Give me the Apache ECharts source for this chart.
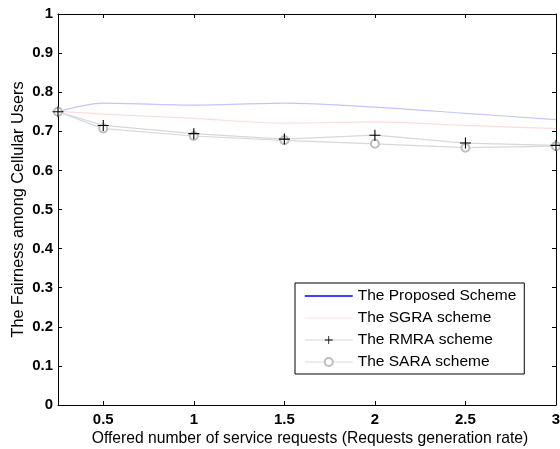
<!DOCTYPE html>
<html>
<head>
<meta charset="utf-8">
<script src="https://cdn.jsdelivr.net/npm/echarts@6/dist/echarts.min.js"></script>
<style>html,body{margin:0;padding:0;background:#fff;}#c{width:560px;height:449px;}</style>
</head>
<body>
<div id="c"></div>
<script>
var xValues = [0.25, 0.5, 1, 1.5, 2, 2.5, 3];
var proposed = [0.750, 0.772, 0.767, 0.772, 0.762, 0.746, 0.730];
var sgra = [0.751, 0.744, 0.733, 0.721, 0.724, 0.715, 0.707];
var rmra = [0.750, 0.715, 0.694, 0.680, 0.690, 0.670, 0.664];
var sara = [0.750, 0.707, 0.688, 0.677, 0.668, 0.658, 0.662];
var xTicks = [0.5, 1, 1.5, 2, 2.5, 3];
var seriesNames = ['The Proposed Scheme', 'The SGRA scheme', 'The RMRA scheme', 'The SARA scheme'];

function pairs(v) { return xValues.map(function (x, i) { return [x, v[i]]; }); }

var FONT = '"Liberation Sans", Arial, Helvetica, sans-serif';
var chart = echarts.init(document.getElementById('c'), null, { renderer: 'canvas' });
var plus = 'path://M4.5,0H5.5V4.5H10V5.5H5.5V10H4.5V5.5H0V4.5H4.5Z';

chart.setOption({
  animation: false,
  backgroundColor: '#fff',
  textStyle: { fontFamily: FONT },
  grid: { left: 58, right: 4, top: 14, bottom: 44, containLabel: false, outerBoundsMode: 'none' },
  xAxis: [{
    type: 'value', min: 0.25, max: 3,
    name: 'Offered number of service requests (Requests generation rate)',
    nameLocation: 'middle', nameGap: 26, nameMoveOverlap: false,
    nameTextStyle: { fontSize: 15.7, color: '#000', fontFamily: FONT, padding: [0, 0, 0, 6] },
    axisLine: { show: true, lineStyle: { color: '#000', width: 1 } },
    axisTick: { show: true, inside: true, length: 4, customValues: xTicks, lineStyle: { color: '#000' } },
    axisLabel: { show: true, customValues: xTicks, fontSize: 15, fontWeight: 'bold', color: '#000', margin: 7, fontFamily: FONT,
      formatter: function (v) { return String(v); } },
    splitLine: { show: false }
  }, {
    type: 'value', min: 0.25, max: 3, position: 'top',
    axisLine: { show: true, onZero: false, lineStyle: { color: '#000', width: 1 } },
    axisTick: { show: true, inside: true, length: 4, customValues: xTicks, lineStyle: { color: '#000' } },
    axisLabel: { show: false }, splitLine: { show: false }
  }],
  yAxis: [{
    type: 'value', min: 0, max: 1, interval: 0.1,
    name: 'The Fairness among Cellular Users',
    nameLocation: 'middle', nameGap: 31, nameMoveOverlap: false,
    nameTextStyle: { fontSize: 16.3, color: '#000', fontFamily: FONT },
    axisLine: { show: true, lineStyle: { color: '#000', width: 1 } },
    axisTick: { show: true, inside: true, length: 4, lineStyle: { color: '#000' } },
    axisLabel: { fontSize: 15, fontWeight: 'bold', color: '#000', margin: 5, fontFamily: FONT,
      formatter: function (v) { return String(Math.round(v * 10) / 10); } },
    splitLine: { show: false }
  }, {
    type: 'value', min: 0, max: 1, interval: 0.1, position: 'right',
    axisLine: { show: true, onZero: false, lineStyle: { color: '#000', width: 1 } },
    axisTick: { show: true, inside: true, length: 4, lineStyle: { color: '#000' } },
    axisLabel: { show: false }, splitLine: { show: false }
  }],
  legend: {
    orient: 'vertical', left: 295, top: 283,
    itemWidth: 48, itemHeight: 10, itemGap: 6,
    padding: [5, 8, 4, 9],
    borderColor: '#000', borderWidth: 1, borderRadius: 0, backgroundColor: '#fff',
    textStyle: { fontSize: 15.5, color: '#000', fontFamily: FONT },
    data: [
      { name: seriesNames[0], itemStyle: { opacity: 0 }, lineStyle: { color: '#0000ff', width: 1.5 } },
      { name: seriesNames[1], itemStyle: { opacity: 0 }, lineStyle: { color: '#fbe0e0', width: 1 } },
      { name: seriesNames[2], lineStyle: { color: '#d8d8d8', width: 1 } },
      { name: seriesNames[3], lineStyle: { color: '#d8d8d8', width: 1 } }
    ]
  },
  series: [
    { name: seriesNames[0], type: 'line', data: pairs(proposed), smooth: 0.3, symbol: 'none',
      lineStyle: { color: '#c4c4ff', width: 1.2 }, itemStyle: { color: '#c4c4ff' }, z: 2 },
    { name: seriesNames[1], type: 'line', data: pairs(sgra), smooth: 0.3, symbol: 'none',
      lineStyle: { color: '#fcdcdc', width: 1.2 }, itemStyle: { color: '#fcdcdc' }, z: 2 },
    { name: seriesNames[2], type: 'line', data: pairs(rmra), symbol: plus, symbolSize: 11,
      lineStyle: { color: '#d8d8d8', width: 1.2 }, itemStyle: { color: '#000' }, z: 4 },
    { name: seriesNames[3], type: 'line', data: pairs(sara), symbol: 'emptyCircle', symbolSize: 8,
      lineStyle: { color: '#d8d8d8', width: 1.2 }, itemStyle: { color: '#bdbdbd', borderWidth: 1 }, z: 3 }
  ]
});
</script>
</body>
</html>
